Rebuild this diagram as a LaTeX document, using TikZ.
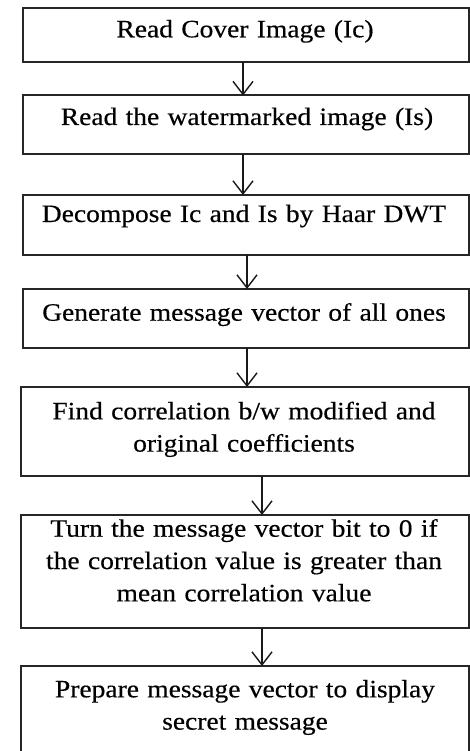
\documentclass[tikz,border=0pt]{standalone}
\usepackage{fontspec}
\setmainfont{Liberation Serif}[FakeStretch=1.1, FakeBold=0.4]
\usetikzlibrary{arrows.meta}
\begin{document}
\begin{tikzpicture}[x=1pt,y=-1pt,
  stepbox/.style={draw=black!85, line width=2pt, inner sep=0pt, outer sep=0pt,
    rectangle, anchor=north west},
  txt/.style={anchor=base, text width=440pt, align=center, inner sep=0pt,
    font=\fontsize{25}{32.3}\selectfont},
  arr/.style={line width=1.4pt, black!90,
    -{Straight Barb[length=13pt, width=20pt, line width=1.4pt]}}]
\useasboundingbox (0,0) rectangle (470,751);
\clip (0,0) rectangle (470,751);

% process boxes (top-left corner, size)
\node[stepbox, minimum width=446pt, minimum height=54pt]  (b1) at (22.5,8.5) {};
\node[stepbox, minimum width=446pt, minimum height=58.5pt] (b2) at (22.5,95.5) {};
\node[stepbox, minimum width=446pt, minimum height=60pt]  (b3) at (22.5,195) {};
\node[stepbox, minimum width=446pt, minimum height=59pt]  (b4) at (22.5,289) {};
\node[stepbox, minimum width=448pt, minimum height=89pt]  (b5) at (20.5,387) {};
\node[stepbox, minimum width=448pt, minimum height=113pt] (b6) at (20.5,515) {};
\node[stepbox, minimum width=448pt, minimum height=120pt] (b7) at (20.5,666) {};

% box texts
\node[txt] (t1) at (245,37.3)  {Read Cover Image (Ic)};
\node[txt] (t2) at (247,125)   {Read the watermarked image (Is)};
\node[txt] (t3) at (244,222)   {Decompose Ic and Is by Haar DWT};
\node[txt] (t4) at (244,320.7) {Generate message vector of all ones};
\node[txt] (t5) at (244,419.3) {Find correlation b/w modified and\\original coefficients};
\node[txt] (t6) at (244,536.7) {Turn the message vector bit to 0 if\\the correlation value is greater than\\mean correlation value};
\node[txt] (t7) at (245,697.3) {Prepare message vector to display\\secret message};

% connectors
\draw[arr] (243,0 |- b1.south) -- (243,0 |- b2.north);
\draw[arr] (243,0 |- b2.south) -- (243,0 |- b3.north);
\draw[arr] (247,0 |- b3.south) -- (247,0 |- b4.north);
\draw[arr] (247,0 |- b4.south) -- (247,0 |- b5.north);
\draw[arr] (262,0 |- b5.south) -- (262,0 |- b6.north);
\draw[arr] (262,0 |- b6.south) -- (262,0 |- b7.north);
\end{tikzpicture}
\end{document}
